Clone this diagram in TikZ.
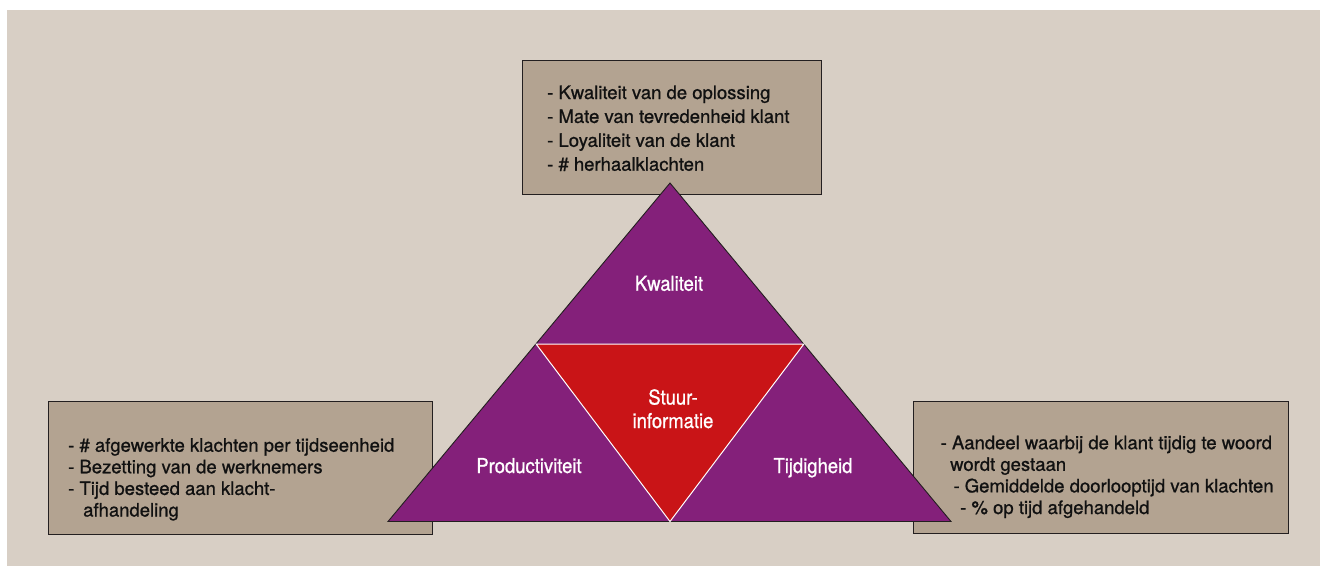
\documentclass[tikz,border=0pt]{standalone}
\usepackage{fontspec}
\setmainfont{TeX Gyre Heros}[FakeBold=0.9]
\newfontfamily\labelfont{TeX Gyre Heros}[FakeBold=0.9, FakeStretch=0.9]
\definecolor{pagebg}{HTML}{D8CFC5}
\definecolor{boxfill}{HTML}{B3A391}
\definecolor{boxline}{HTML}{231F20}
\definecolor{kpipurple}{HTML}{84207A}
\definecolor{kpired}{HTML}{C91417}
\definecolor{inktext}{HTML}{111111}
\tikzset{
  infobox/.style={draw=boxline, line width=1.4pt, fill=boxfill, rectangle, inner sep=0pt, anchor=north west},
  listtext/.style={anchor=base west, inner sep=0pt, align=left, text=inktext,
    font=\fontsize{18.5}{23.9}\selectfont},
  listtexttight/.style={listtext, font=\fontsize{18.5}{21.6}\selectfont},
  segment/.style={draw=boxline, line width=0.9pt, fill=kpipurple},
  core/.style={draw=white, line width=1pt, fill=kpired},
  seglabel/.style={anchor=base, inner sep=0pt, text=white, align=center,
    font=\labelfont\fontsize{20.5}{23.5}\selectfont}
}
\begin{document}
\begin{tikzpicture}[x=1pt, y=-1pt]
  \useasboundingbox (0,0) rectangle (1320,566);
  \fill[pagebg] (7,10) rectangle (1320,566);

  % measurement boxes
  \node[infobox, minimum width=299pt, minimum height=134pt] (topbox) at (522,60) {};
  \node[infobox, minimum width=384pt, minimum height=133pt] (leftbox) at (48,401) {};
  \node[infobox, minimum width=375pt, minimum height=132pt] (rightbox) at (913,401) {};

  % multi-line lists: the base anchor sits on the last line
  \node[listtext] (toptext) at (547,170.7) {- Kwaliteit van de oplossing\\- Mate van tevredenheid klant\\- Loyaliteit van de klant\\- \# herhaalklachten};
  \node[listtexttight] (lefttext) at (68,516.5) {- \# afgewerkte klachten per tijdseenheid\\- Bezetting van de werknemers\\- Tijd besteed aan klacht-\\\hspace*{15pt}afhandeling};
  \node[listtexttight] (righttext) at (940.5,514) {- Aandeel waarbij de klant tijdig te woord\\\hspace*{9.5pt}wordt gestaan\\\hspace*{12.8pt}- Gemiddelde doorlooptijd van klachten\\\hspace*{19.5pt}- \% op tijd afgehandeld};

  % pyramid: three purple segments around the red core
  \coordinate (apex) at (670,183);
  \coordinate (baseL) at (388,521.5);
  \coordinate (baseR) at (951,521.5);
  \coordinate (midL) at (536.1,344);
  \coordinate (midR) at (803.9,344);
  \coordinate (midB) at (670,521.5);
  \path[segment] (apex) -- (baseL) -- (baseR) -- cycle;
  \path[core] (midL) -- (midR) -- (midB) -- cycle;

  \node[seglabel] (kwal) at (669,290.7) {Kwaliteit};
  \node[seglabel] (stuur) at (673,428) {Stuur-\\informatie};
  \node[seglabel] (prod) at (529,473) {Productiviteit};
  \node[seglabel] (tijd) at (813,473) {Tijdigheid};
\end{tikzpicture}
\end{document}
